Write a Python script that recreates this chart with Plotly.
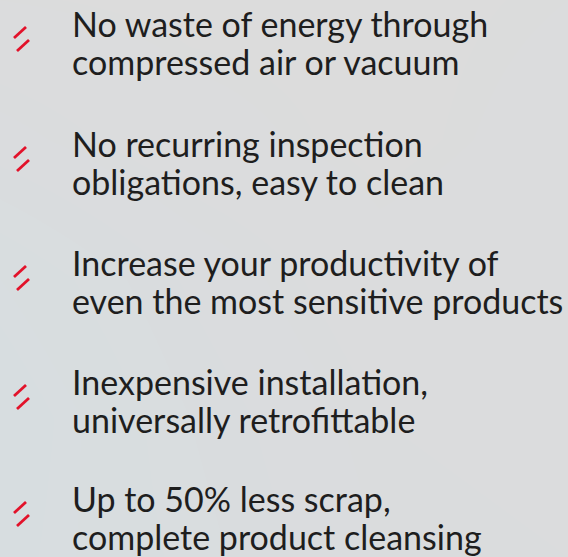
import plotly.graph_objects as go
import numpy as np

# Content
line1 = [
    "No waste of energy through",
    "No recurring inspection",
    "Increase your productivity of",
    "Inexpensive installation,",
    "Up to 50% less scrap,",
]
line2 = [
    "compressed air or vacuum",
    "obligations, easy to clean",
    "even the most sensitive products",
    "universally retrofittable",
    "complete product cleansing",
]
# baseline of first line of each item (pixel rows, top = 0)
item_y = [35, 155, 274, 393, 510]

W, H = 568, 557
FONT = "Lato"
FS = 34
LINE_GAP = 38
TEXT_X = 70

fig = go.Figure()

# background gradient (shade levels on a coarse grid)
bg_z = [
    [0.10, 0.05, 0.05, 0.10],
    [0.35, 0.15, 0.05, 0.15],
    [0.70, 0.40, 0.15, 0.20],
    [0.85, 0.50, 0.25, 0.20],
    [0.80, 0.55, 0.30, 0.25],
]
fig.add_trace(go.Heatmap(
    z=bg_z, x=np.linspace(0, W, 4), y=np.linspace(0, H, 5),
    zsmooth="best", showscale=False, hoverinfo="skip",
    colorscale=[[0, "#dcdcdc"], [1, "#d6dde1"]], zmin=0, zmax=1,
))

# icons: two parallel red slashes per item
for yb in item_y:
    c = yb + 4
    for dy, dx in ((-6.5, 0), (6.5, 3)):
        fig.add_trace(go.Scatter(
            x=[14 + dx, 26 + dx], y=[c + dy + 5.5, c + dy - 5.5],
            mode="lines", line=dict(color="#e2122a", width=2.8),
            hoverinfo="skip", showlegend=False,
        ))

for yb, a, b in zip(item_y, line1, line2):
    for t, y in ((a, yb), (b, yb + LINE_GAP)):
        fig.add_annotation(
            x=TEXT_X, y=y - 12, text=t, showarrow=False,
            xanchor="left", yanchor="middle", xref="x", yref="y",
            font=dict(family=FONT, size=FS, color="#1e1e1e"),
        )

fig.update_layout(
    width=W, height=H, margin=dict(l=0, r=0, t=0, b=0),
    paper_bgcolor="#dcdcdc", plot_bgcolor="#dcdcdc",
    xaxis=dict(range=[0, W], visible=False, fixedrange=True),
    yaxis=dict(range=[H, 0], visible=False, fixedrange=True),
    showlegend=False,
)
fig.write_html("out.html", config={"displayModeBar": False},
               post_script="document.body.style.margin='0';document.body.style.overflow='hidden';")
